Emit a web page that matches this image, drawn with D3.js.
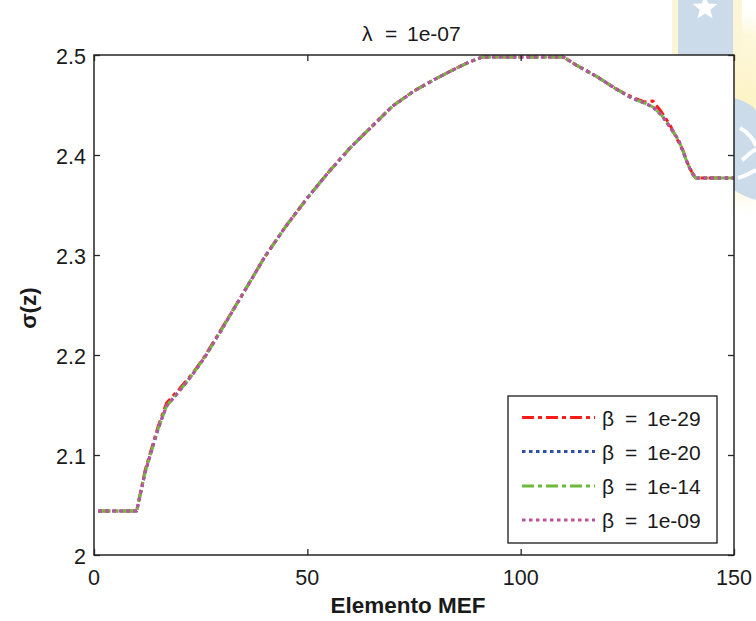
<!DOCTYPE html>
<html>
<head>
<meta charset="utf-8">
<script src="https://cdn.jsdelivr.net/npm/d3@7/dist/d3.min.js"></script>
<style>
  html, body { margin: 0; padding: 0; background: #ffffff; }
  svg { display: block; font-family: "Liberation Sans", Arial, Helvetica, sans-serif; }
</style>
</head>
<body>
<svg id="chart" width="756" height="621"></svg>
<script>
// ---------- data ----------
const titleText = "λ = 1e-07";
const xLabelText = "Elemento MEF";
const yLabelText = "σ(z)";
const xTicks = [0, 50, 100, 150];
const yTicks = [2, 2.1, 2.2, 2.3, 2.4, 2.5];
const yTickLabels = ["2", "2.1", "2.2", "2.3", "2.4", "2.5"];

const elements = [1, 10, 12, 15, 17, 20, 23, 26, 30, 35, 40, 45, 50, 55, 60, 65, 70, 75, 80, 85, 88, 91, 110, 113, 118, 122, 126, 129, 131, 133, 135, 137, 138, 139, 140, 141, 150];

const sigmaB29 = [2.044, 2.044, 2.085, 2.128, 2.152, 2.166, 2.181, 2.199, 2.227, 2.262, 2.298, 2.329, 2.357, 2.383, 2.407, 2.428, 2.449, 2.464, 2.476, 2.487, 2.493, 2.498, 2.498, 2.490, 2.478, 2.467, 2.458, 2.453, 2.454, 2.443, 2.430, 2.413, 2.405, 2.393, 2.384, 2.377, 2.377];
const sigmaB20 = [2.044, 2.044, 2.083, 2.126, 2.149, 2.164, 2.180, 2.198, 2.226, 2.262, 2.298, 2.329, 2.357, 2.383, 2.407, 2.428, 2.449, 2.464, 2.476, 2.487, 2.493, 2.498, 2.498, 2.490, 2.478, 2.467, 2.457, 2.452, 2.448, 2.440, 2.428, 2.415, 2.404, 2.393, 2.383, 2.377, 2.377];
const sigmaB14 = [2.044, 2.044, 2.083, 2.126, 2.149, 2.164, 2.180, 2.198, 2.226, 2.262, 2.298, 2.329, 2.357, 2.383, 2.407, 2.428, 2.449, 2.464, 2.476, 2.487, 2.493, 2.498, 2.498, 2.490, 2.478, 2.467, 2.457, 2.452, 2.448, 2.440, 2.428, 2.415, 2.404, 2.393, 2.383, 2.377, 2.377];
const sigmaB09 = [2.044, 2.044, 2.083, 2.126, 2.149, 2.164, 2.180, 2.198, 2.226, 2.262, 2.298, 2.329, 2.357, 2.383, 2.407, 2.428, 2.449, 2.464, 2.476, 2.487, 2.493, 2.498, 2.498, 2.490, 2.478, 2.467, 2.457, 2.452, 2.448, 2.440, 2.428, 2.415, 2.404, 2.393, 2.383, 2.377, 2.377];

const seriesNames = ["1e-29", "1e-20", "1e-14", "1e-09"];
const seriesValues = [sigmaB29, sigmaB20, sigmaB14, sigmaB09];
const seriesColors = ["#ff1a1a", "#3050a6", "#6cbb3c", "#b9529f"];
const seriesDash = ["12,4,4,4", "3.5,3.5", "12,4,4,4", "3.5,3.5"];

// ---------- layout ----------
const svg = d3.select("#chart");
const L = 94, R = 734, T = 55, B = 555;
const x = d3.scaleLinear().domain([0, 150]).range([L, R]);
const y = d3.scaleLinear().domain([2, 2.5]).range([B, T]);

// ---------- watermark (logo in background) ----------
const wm = svg.append("g");
const defs = svg.append("defs");
const rg = defs.append("radialGradient").attr("id", "glow").attr("cx", "50%").attr("cy", "50%").attr("r", "50%");
rg.append("stop").attr("offset", "0%").attr("stop-color", "#fdf3c4");
rg.append("stop").attr("offset", "70%").attr("stop-color", "#fef8dc");
rg.append("stop").attr("offset", "100%").attr("stop-color", "#ffffff").attr("stop-opacity", 0);
wm.append("ellipse").attr("cx", 745).attr("cy", 110).attr("rx", 80).attr("ry", 110).attr("fill", "url(#glow)");
wm.append("rect").attr("x", 672).attr("y", 0).attr("width", 70).attr("height", 60).attr("fill", "#fdf6d6");
wm.append("rect").attr("x", 678).attr("y", 0).attr("width", 55).attr("height", 60).attr("fill", "#cbdbea");
// star
const star = d3.range(10).map(i => {
  const a = -Math.PI / 2 + i * Math.PI / 5;
  const r = i % 2 === 0 ? 13 : 5.5;
  return [705 + r * Math.cos(a), 8 + r * Math.sin(a)];
});
wm.append("path").attr("d", d3.line()(star) + "Z").attr("fill", "#ffffff");
// blue shapes right of the axes
wm.append("path")
  .attr("d", "M734,98 C748,102 756,108 756,112 L756,200 C748,198 740,194 734,190 Z")
  .attr("fill", "#cbdbea");
wm.append("path").attr("d", "M740,128 C748,132 754,140 756,146").attr("stroke", "#ffffff").attr("stroke-width", 4).attr("fill", "none");
wm.append("path").attr("d", "M742,160 C748,156 752,150 756,150").attr("stroke", "#ffffff").attr("stroke-width", 4).attr("fill", "none");
wm.append("path").attr("d", "M738,178 C746,176 752,172 756,170").attr("stroke", "#ffffff").attr("stroke-width", 4).attr("fill", "none");

// ---------- axes box ----------
svg.append("rect").attr("x", L).attr("y", T).attr("width", R - L).attr("height", B - T).attr("fill", "#ffffff");

// ---------- series ----------
const line = d3.line().x((d, i) => x(elements[i])).y(d => y(d));
seriesValues.forEach((vals, k) => {
  svg.append("path")
    .datum(vals)
    .attr("d", line)
    .attr("fill", "none")
    .attr("stroke", seriesColors[k])
    .attr("stroke-width", 3)
    .attr("stroke-dasharray", seriesDash[k])
    .attr("stroke-linejoin", "round");
});

// ---------- axis lines & ticks ----------
const axisColor = "#262626";
svg.append("rect").attr("x", L).attr("y", T).attr("width", R - L).attr("height", B - T)
  .attr("fill", "none").attr("stroke", axisColor).attr("stroke-width", 1.5);

const tl = 6;
const xAxisB = d3.axisBottom(x).tickValues(xTicks).tickSize(-tl).tickFormat("");
const xAxisT = d3.axisTop(x).tickValues(xTicks).tickSize(-tl).tickFormat("");
const yAxisL = d3.axisLeft(y).tickValues(yTicks).tickSize(-tl).tickFormat("");
const yAxisR = d3.axisRight(y).tickValues(yTicks).tickSize(-tl).tickFormat("");
[[xAxisB, `translate(0,${B})`], [xAxisT, `translate(0,${T})`], [yAxisL, `translate(${L},0)`], [yAxisR, `translate(${R},0)`]].forEach(([ax, tr]) => {
  const g = svg.append("g").attr("transform", tr).call(ax);
  g.select(".domain").remove();
  g.selectAll("line").attr("stroke", axisColor).attr("stroke-width", 1.3);
});

// tick labels
svg.append("g").selectAll("text").data(xTicks).join("text")
  .attr("x", d => x(d)).attr("y", 585)
  .attr("text-anchor", "middle").attr("font-size", 21.5).attr("fill", "#1a1a1a")
  .text(d => d);
svg.append("g").selectAll("text").data(yTicks).join("text")
  .attr("x", 86).attr("y", d => y(d) + 9)
  .attr("text-anchor", "end").attr("font-size", 21.5).attr("fill", "#1a1a1a")
  .text((d, i) => yTickLabels[i]);

// ---------- title & labels ----------
const titleParts = titleText.split(" ");
const title = svg.append("text").attr("y", 41).attr("font-size", 21).attr("fill", "#1a1a1a");
title.append("tspan").attr("x", 362).text(titleParts[0]);
title.append("tspan").attr("x", 385).text(titleParts[1]);
title.append("tspan").attr("x", 407).text(titleParts[2]);

svg.append("text").attr("x", 408).attr("y", 613).attr("text-anchor", "middle")
  .attr("font-size", 22.5).attr("font-weight", "bold").attr("fill", "#1a1a1a").text(xLabelText);
svg.append("text").attr("transform", "translate(36,308) rotate(-90)").attr("text-anchor", "middle")
  .attr("font-size", 22.5).attr("font-weight", "bold").attr("fill", "#1a1a1a").text(yLabelText);

// ---------- legend ----------
const lg = svg.append("g");
lg.append("rect").attr("x", 508).attr("y", 396).attr("width", 209).attr("height", 147)
  .attr("fill", "#ffffff").attr("stroke", "#1a1a1a").attr("stroke-width", 1.3);
const rowY = [417.5, 451.5, 486, 520];
seriesNames.forEach((name, k) => {
  lg.append("line").attr("x1", 522).attr("x2", 595).attr("y1", rowY[k]).attr("y2", rowY[k])
    .attr("stroke", seriesColors[k]).attr("stroke-width", 3).attr("stroke-dasharray", seriesDash[k]);
  const t = lg.append("text").attr("y", rowY[k] + 8).attr("font-size", 21).attr("fill", "#1a1a1a");
  t.append("tspan").attr("x", 602).text("β");
  t.append("tspan").attr("x", 625).text("=");
  t.append("tspan").attr("x", 647).text(name);
});
</script>
</body>
</html>
